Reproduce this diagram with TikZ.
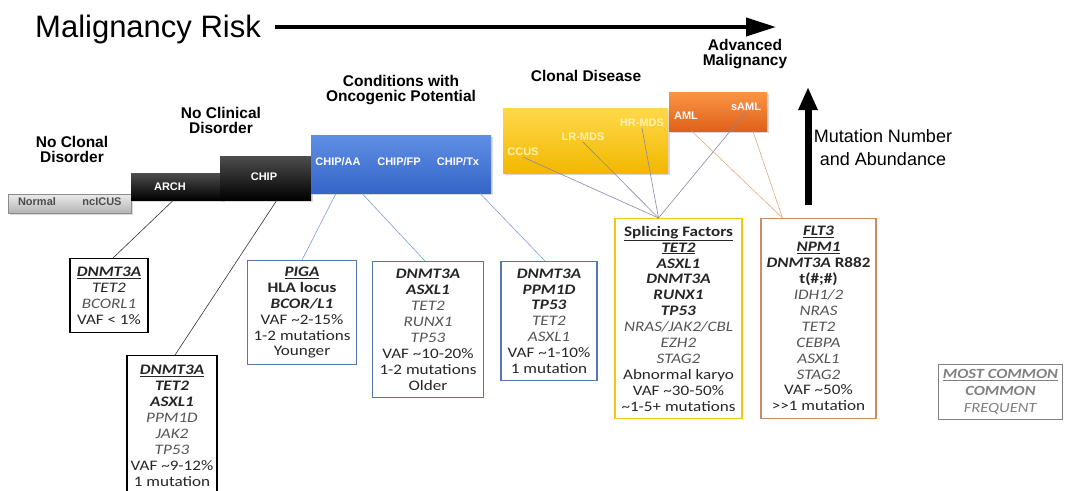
\documentclass[tikz,border=0pt]{standalone}
\usepackage{fontspec}
\setmainfont{Liberation Sans}
\newfontfamily\boxfont{Carlito}[FakeStretch=1.18]
\usetikzlibrary{arrows.meta,shadows}

\definecolor{chipblue}{HTML}{3565C8}
\definecolor{chipbluetop}{HTML}{5F8FE4}
\definecolor{ccusyellow}{HTML}{F2B800}
\definecolor{ccusyellowtop}{HTML}{FFD84A}
\definecolor{amlorange}{HTML}{E0601A}
\definecolor{amlorangetop}{HTML}{FA9445}
\definecolor{paleyellow}{HTML}{FFF2B3}
\definecolor{boxblue}{HTML}{5577B8}
\definecolor{boxyellow}{HTML}{F2C80F}
\definecolor{boxorange}{HTML}{CF8A62}
\definecolor{linkblue}{HTML}{7C9BD6}
\definecolor{linkgray}{HTML}{8A86A8}
\definecolor{linkorange}{HTML}{E8A77E}
\definecolor{genegray}{HTML}{555555}

\newcommand{\genemc}[1]{\underline{\textbf{\textit{#1}}}}
\newcommand{\genec}[1]{\textbf{\textit{#1}}}
\newcommand{\genef}[1]{\textcolor{genegray}{\textit{#1}}}
\newcommand{\vaf}{VAF \textasciitilde}

\tikzset{
  riskbar/.style={anchor=north west, inner sep=0pt, drop shadow={opacity=.3,shadow xshift=2pt,shadow yshift=-2pt}},
  barlabel/.style={font=\fontsize{11}{12}\selectfont\bfseries, text=white, inner sep=1pt},
  heading/.style={font=\fontsize{15.5}{15}\selectfont\bfseries, align=center},
  genebox/.style={anchor=north, align=center, line width=1.3pt, fill=white, inner sep=2pt,
    font=\boxfont\fontsize{14.5}{15.9}\selectfont, text=black!85},
  link/.style={line width=.6pt},
}

\begin{document}
\begin{tikzpicture}[x=1pt,y=-1pt]
\useasboundingbox (0,0) rectangle (1065,490);

% title and risk arrow
\node[font=\fontsize{31}{31}\selectfont, anchor=west, inner sep=0pt] (title) at (35,29) {Malignancy Risk};
\coordinate (riskend) at (776,27);
\draw[line width=4pt, -{Triangle[length=30pt,width=18pt]}] ([xshift=14pt,yshift=2pt]title.east) -- (riskend);

% stage bars
\node[riskbar, minimum width=123pt, minimum height=19pt, top color=black!8, bottom color=black!30, draw=black!45, line width=.4pt] (normal) at (8,194) {};
\node[riskbar, minimum width=92pt, minimum height=27pt, top color=black!70, bottom color=black] (arch) at (131,173) {};
\node[riskbar, minimum width=91pt, minimum height=44pt, top color=black!70, bottom color=black] (chip) at (220,156) {};
\node[riskbar, minimum width=180pt, minimum height=58pt, top color=chipbluetop, bottom color=chipblue] (onco) at (311,135) {};
\node[riskbar, minimum width=165pt, minimum height=65pt, top color=ccusyellowtop, bottom color=ccusyellow] (clonal) at (503,108) {};
\node[riskbar, minimum width=98pt, minimum height=39pt, top color=amlorangetop, bottom color=amlorange] (amlbar) at (669,92) {};

% bar labels
\node[barlabel, text=black!70] (lnormal) at (37,202) {Normal};
\node[barlabel, text=black!70] (lnclcus) at (102,202) {ncICUS};
\node[barlabel] (larch) at (170,187) {ARCH};
\node[barlabel] (lchip) at (264,177) {CHIP};
\node[barlabel] (laa) at (338,162) {CHIP/AA};
\node[barlabel] (lfp) at (399,162) {CHIP/FP};
\node[barlabel] (ltx) at (458,162) {CHIP/Tx};
\node[barlabel, text=paleyellow] (ccus) at (523,152) {CCUS};
\node[barlabel, text=paleyellow] (lrmds) at (583,137) {LR-MDS};
\node[barlabel, text=paleyellow] (hrmds) at (642,123) {HR-MDS};
\node[barlabel] (aml) at (686,116) {AML};
\node[barlabel] (saml) at (746,107) {sAML};

% stage headings
\node[heading] (hnoclonal) at (72,149) {No Clonal\\Disorder};
\node[heading] (hnoclin) at (221,120) {No Clinical\\Disorder};
\node[heading] (honco) at (401,90) {Conditions with\\Oncogenic Potential};
\node[heading] (hclonal) at (586,76) {Clonal Disease};
\node[heading] (hadv) at (745,54) {Advanced\\Malignancy};

% mutation arrow
\coordinate (upbase) at (808,205);
\coordinate (uptip) at (808,87);
\draw[line width=7pt, -{Triangle[length=23pt,width=18pt]}] (upbase) -- (uptip);
\node[font=\fontsize{18}{23}\selectfont, align=center] (mutnum) at (883,148) {Mutation Number\\and Abundance};

% gene boxes
\node[genebox, draw=black, minimum width=78pt, minimum height=74pt] (archbox) at (109,258)
  {\genemc{DNMT3A}\\ \textit{TET2}\\ \genef{BCORL1}\\ VAF < 1\%};
\node[genebox, draw=black, minimum width=90pt, minimum height=140pt] (chipbox) at (172,355)
  {\genemc{DNMT3A}\\ \genec{TET2}\\ \genec{ASXL1}\\ \genef{PPM1D}\\ \genef{JAK2}\\ \genef{TP53}\\ \vaf9-12\%\\ 1 mutation};
\node[genebox, draw=boxblue, minimum width=109pt, minimum height=104pt] (pigabox) at (302,260)
  {\genemc{PIGA}\\ \textbf{HLA locus}\\ \genec{BCOR/L1}\\ \vaf2-15\%\\ 1-2 mutations\\ Younger};
\node[genebox, draw=boxblue, minimum width=111pt, minimum height=136pt] (fpbox) at (428,261)
  {\genec{DNMT3A}\\ \genec{ASXL1}\\ \genef{TET2}\\ \genef{RUNX1}\\ \genef{TP53}\\ \vaf10-20\%\\ 1-2 mutations\\ Older};
\node[genebox, draw=boxblue, minimum width=96pt, minimum height=119pt] (txbox) at (549,261)
  {\genec{DNMT3A}\\ \genec{PPM1D}\\ \genec{TP53}\\ \genef{TET2}\\ \genef{ASXL1}\\ \vaf1-10\%\\ 1 mutation};
\node[genebox, draw=boxyellow, minimum width=127pt, minimum height=200pt] (splicebox) at (678.5,218)
  {\underline{\textbf{Splicing Factors}}\\ \genemc{TET2}\\ \genec{ASXL1}\\ \genec{DNMT3A}\\ \genec{RUNX1}\\ \genec{TP53}\\
   \genef{NRAS/JAK2/CBL}\\ \genef{EZH2}\\ \genef{STAG2}\\ Abnormal karyo\\ \vaf30-50\%\\ \textasciitilde1-5+ mutations};
\node[genebox, draw=boxorange, minimum width=115pt, minimum height=200pt] (amlbox) at (818.5,218)
  {\genemc{FLT3}\\ \genemc{NPM1}\\ \genec{DNMT3A} \textbf{R882}\\ \textbf{t(\#;\#)}\\ \genef{IDH1/2}\\ \genef{NRAS}\\
   \genef{TET2}\\ \genef{CEBPA}\\ \genef{ASXL1}\\ \genef{STAG2}\\ \vaf50\%\\ >>1 mutation};

% legend
\node[genebox, draw=black!50, line width=1pt, text=black!50, minimum width=124pt, minimum height=55pt,
  font=\boxfont\fontsize{14}{17}\selectfont] (legend) at (1000.5,364)
  {\underline{\textbf{\textit{MOST COMMON}}}\\ \textbf{\textit{COMMON}}\\ \textit{FREQUENT}};

% connectors
\draw[link, draw=black!80] ([xshift=-4pt]arch.south) -- ([xshift=4pt]archbox.north);
\draw[link, draw=black!80] ([xshift=11pt]chip.south) -- ([xshift=3pt]chipbox.north);
\draw[link, draw=linkblue] ([xshift=25pt]onco.south west) -- (pigabox.north);
\draw[link, draw=linkblue] ([xshift=51pt]onco.south west) -- ([xshift=-3pt]fpbox.north);
\draw[link, draw=linkblue] ([xshift=169pt]onco.south west) -- ([xshift=-4pt]txbox.north);
\coordinate (splicetop) at ([xshift=-20pt]splicebox.north);
\draw[link, draw=linkgray] (ccus.south) -- (splicetop);
\draw[link, draw=linkgray] (lrmds.south) -- (splicetop);
\draw[link, draw=linkgray] (hrmds.south) -- (splicetop);
\draw[link, draw=linkgray] (saml.south) -- (splicetop);
\coordinate (amltop) at ([xshift=-36pt]amlbox.north);
\draw[link, draw=linkorange] ([xshift=23pt]amlbar.south west) -- (amltop);
\draw[link, draw=linkorange] ([xshift=84pt]amlbar.south west) -- (amltop);
\end{tikzpicture}
\end{document}
